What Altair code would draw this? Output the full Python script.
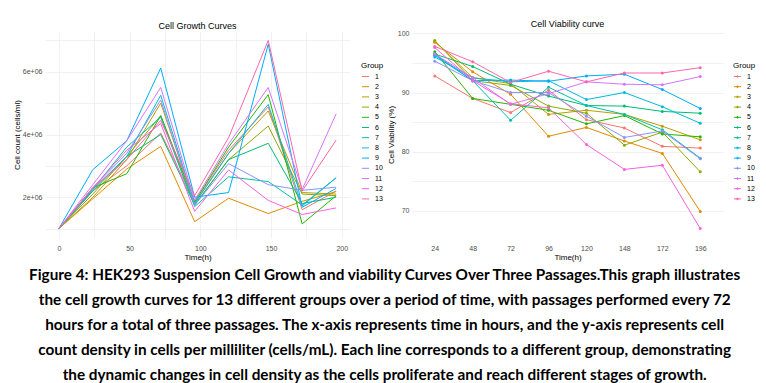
import altair as alt
import pandas as pd

groups = [str(i) for i in range(1, 14)]
colors = ["#F8766D", "#E18A00", "#BE9C00", "#8CAB00", "#24B700", "#00BE70", "#00C1AB",
          "#00BBDA", "#00ACFC", "#8B93FF", "#D575FE", "#F962DD", "#FF65AC"]

# Growth curves (cells/ml), time in hours
growth_time = [0, 24, 48, 72, 96, 120, 148, 172, 196]
growth_1 = [1.0e6, 2.20e6, 3.00e6, 4.05e6, 1.85e6, 3.50e6, 4.88e6, 1.60e6, 2.20e6]
growth_2 = [1.0e6, 1.95e6, 2.90e6, 3.62e6, 1.22e6, 1.97e6, 1.48e6, 1.87e6, 2.18e6]
growth_3 = [1.0e6, 2.00e6, 3.20e6, 5.00e6, 1.80e6, 3.40e6, 4.75e6, 2.15e6, 2.10e6]
growth_4 = [1.0e6, 2.10e6, 3.30e6, 4.60e6, 1.75e6, 3.20e6, 4.27e6, 2.10e6, 2.05e6]
growth_5 = [1.0e6, 2.30e6, 2.75e6, 4.60e6, 1.85e6, 3.60e6, 5.27e6, 1.15e6, 2.05e6]
growth_6 = [1.0e6, 2.20e6, 3.30e6, 4.00e6, 1.75e6, 3.20e6, 3.72e6, 1.80e6, 2.00e6]
growth_7 = [1.0e6, 2.25e6, 3.60e6, 4.55e6, 1.70e6, 2.65e6, 2.50e6, 1.75e6, 2.62e6]
growth_8 = [1.0e6, 2.25e6, 3.30e6, 5.25e6, 1.80e6, 3.40e6, 4.96e6, 1.72e6, 2.62e6]
growth_9 = [1.0e6, 2.88e6, 3.80e6, 6.12e6, 2.00e6, 2.15e6, 6.88e6, 1.68e6, 2.28e6]
growth_10 = [1.0e6, 2.30e6, 3.40e6, 5.10e6, 1.75e6, 3.07e6, 2.40e6, 2.22e6, 2.32e6]
growth_11 = [1.0e6, 2.40e6, 3.80e6, 5.50e6, 1.90e6, 3.70e6, 5.50e6, 2.25e6, 4.66e6]
growth_12 = [1.0e6, 2.30e6, 3.50e6, 4.35e6, 1.55e6, 2.87e6, 1.90e6, 1.45e6, 1.66e6]
growth_13 = [1.0e6, 2.30e6, 3.20e6, 4.45e6, 2.05e6, 3.90e6, 7.00e6, 2.20e6, 3.82e6]

# Viability (%)
via_time = ["24", "48", "72", "96", "120", "148", "172", "196"]
via_1 = [92.8, 89.0, 86.6, 90.4, 85.4, 84.0, 80.9, 80.6]
via_2 = [98.5, 93.5, 89.7, 82.6, 84.1, 81.8, 79.7, 69.9]
via_3 = [98.7, 92.5, 91.5, 86.3, 87.0, 86.3, 84.3, 82.0]
via_4 = [98.8, 92.0, 91.2, 87.7, 86.5, 81.1, 83.3, 76.6]
via_5 = [96.9, 89.0, 88.0, 87.0, 84.7, 86.1, 83.0, 82.5]
via_6 = [96.5, 94.4, 91.4, 89.4, 87.8, 87.7, 86.8, 86.5]
via_7 = [96.5, 92.0, 85.3, 90.9, 87.8, 86.3, 83.7, 78.9]
via_8 = [96.0, 92.5, 91.8, 92.0, 88.8, 90.0, 87.6, 84.8]
via_9 = [96.3, 92.0, 92.1, 91.9, 92.8, 93.1, 90.5, 87.3]
via_10 = [95.3, 92.0, 90.0, 90.0, 86.0, 82.4, 83.5, 78.8]
via_11 = [96.5, 92.5, 88.0, 89.8, 91.8, 91.4, 91.3, 92.7]
via_12 = [97.6, 92.0, 88.1, 87.4, 81.2, 77.0, 77.7, 67.0]
via_13 = [97.8, 95.2, 91.7, 93.6, 91.8, 93.3, 93.3, 94.2]

caption_lines = [
    "Figure 4: HEK293 Suspension Cell Growth and viability Curves Over Three Passages.This graph illustrates",
    "the cell growth curves for 13 different groups over a period of time, with passages performed every 72",
    "hours for a total of three passages. The x-axis represents time in hours, and the y-axis represents cell",
    "count density in cells per milliliter (cells/mL). Each line corresponds to a different group, demonstrating",
    "the dynamic changes in cell density as the cells proliferate and reach different stages of growth.",
]

growth_series = [growth_1, growth_2, growth_3, growth_4, growth_5, growth_6, growth_7,
                 growth_8, growth_9, growth_10, growth_11, growth_12, growth_13]
via_series = [via_1, via_2, via_3, via_4, via_5, via_6, via_7,
              via_8, via_9, via_10, via_11, via_12, via_13]

growth_df = pd.DataFrame(
    [{"group": g, "time": t, "count": v}
     for g, vals in zip(groups, growth_series) for t, v in zip(growth_time, vals)]
)
via_df = pd.DataFrame(
    [{"group": g, "time": t, "viab": v}
     for g, vals in zip(groups, via_series) for t, v in zip(via_time, vals)]
)

FONT = "Liberation Sans"
axis_common = dict(domain=False, ticks=False, gridColor="#EBEBEB", gridWidth=0.7,
                   labelColor="#4D4D4D", labelFontSize=7, titleFontSize=8,
                   titleFontWeight="normal", labelFont=FONT, titleFont=FONT,
                   titleColor="#000000")

color_scale = alt.Scale(domain=groups, range=colors)

legend_common = dict(title="Group", orient="none", legendY=31,
                     labelFontSize=7, titleFontSize=8, titleFontWeight="normal",
                     labelFont=FONT, titleFont=FONT, symbolSize=50, symbolStrokeWidth=1,
                     rowPadding=2.2, labelColor="#000000", titleColor="#000000",
                     titlePadding=2, labelOffset=5)

line_dot_symbol = "M-1,0L1,0M0.22,0A0.22,0.22,0,1,1,-0.22,0A0.22,0.22,0,1,1,0.22,0Z"

growth_chart = alt.Chart(growth_df).mark_line(strokeWidth=1).encode(
    x=alt.X("time:Q",
            scale=alt.Scale(domain=[-9.8, 205.8], nice=False, zero=False),
            axis=alt.Axis(values=[0, 25, 50, 75, 100, 125, 150, 175, 200],
                          labelExpr="datum.value % 50 == 0 ? datum.value : ''",
                          title="Time(h)", labelFlush=False, labelPadding=6,
                          titlePadding=2, **axis_common)),
    y=alt.Y("count:Q",
            scale=alt.Scale(domain=[0.7e6, 7.3e6], nice=False, zero=False),
            axis=alt.Axis(values=[1e6, 2e6, 3e6, 4e6, 5e6, 6e6, 7e6],
                          labelExpr="datum.value % 2000000 == 0 ? replace(format(datum.value, '.0e'), 'e+', 'e+0') : ''",
                          title="Cell count (cells/ml)", labelPadding=3, titlePadding=1,
                          **axis_common)),
    color=alt.Color("group:N", scale=color_scale, sort=groups,
                    legend=alt.Legend(legendX=316, symbolType="stroke", **legend_common)),
).properties(
    width=305, height=207,
    title=alt.TitleParams("Cell Growth Curves", fontSize=9, fontWeight="normal",
                          font=FONT, anchor="middle", offset=0),
)

via_base = alt.Chart(via_df).encode(
    x=alt.X("time:O", sort=via_time,
            scale=alt.Scale(type="point", padding=0.6),
            axis=alt.Axis(labelAngle=0, title="Time(h)", labelPadding=6, titlePadding=2,
                          **axis_common)),
    y=alt.Y("viab:Q",
            scale=alt.Scale(domain=[65.4, 100.4], nice=False, zero=False),
            axis=alt.Axis(values=[70, 75, 80, 85, 90, 95, 100],
                          labelExpr="datum.value % 10 == 0 ? datum.value : ''",
                          title="Cell Viability (%)", labelPadding=3, titlePadding=2,
                          **axis_common)),
    color=alt.Color("group:N", scale=color_scale, sort=groups,
                    legend=alt.Legend(legendX=321, symbolType=line_dot_symbol,
                                      **legend_common)),
)
via_chart = alt.layer(
    via_base.mark_line(strokeWidth=1),
    via_base.mark_point(filled=True, size=9, opacity=1),
).properties(
    width=311, height=207,
    title=alt.TitleParams("Cell Viability curve", fontSize=9, fontWeight="normal",
                          font=FONT, anchor="middle", offset=0),
)

chart = alt.hconcat(growth_chart, via_chart, spacing=3).resolve_legend(
    color="independent"
).properties(
    padding={"left": 5, "top": 12, "right": 0, "bottom": 0},
    title=alt.TitleParams(caption_lines, orient="bottom", anchor="middle",
                          font="Lato", fontSize=15.3, fontWeight="bold",
                          lineHeight=25, offset=7, color="#000000"),
).configure_view(stroke=None)

chart.save("out.html", embed_options={"renderer": "svg", "actions": False})
